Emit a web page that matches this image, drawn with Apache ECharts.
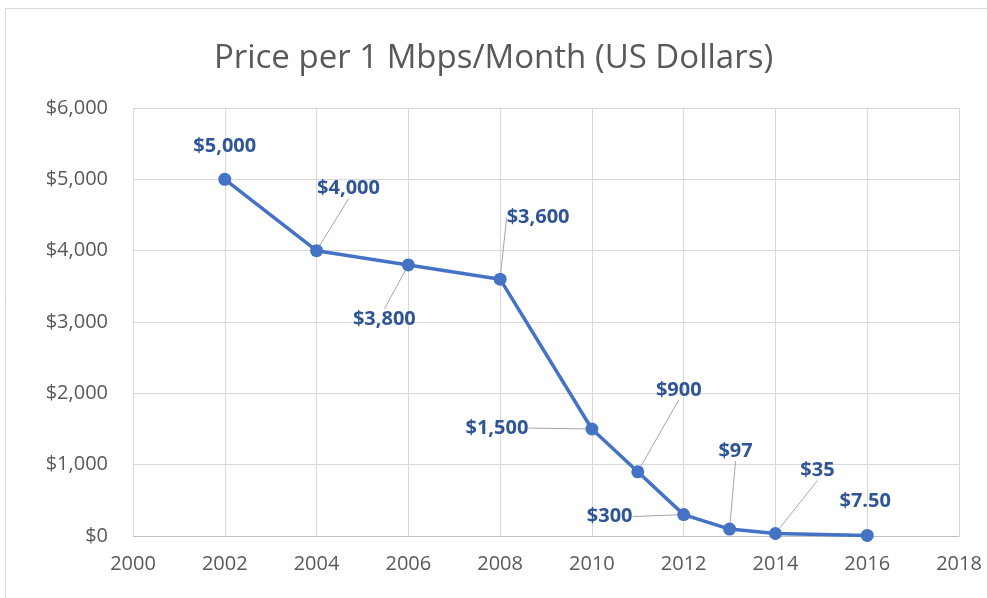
<!DOCTYPE html>
<html>
<head>
<meta charset="utf-8">
<script src="https://cdn.jsdelivr.net/npm/echarts@6/dist/echarts.min.js"></script>
<style>
  html, body { margin: 0; padding: 0; background: #fff; }
  #chart { width: 987px; height: 598px; }
</style>
</head>
<body>
<div id="chart"></div>
<script>
'use strict';

const years = [2002, 2004, 2006, 2008, 2010, 2011, 2012, 2013, 2014, 2016];
const prices = [5000, 4000, 3800, 3600, 1500, 900, 300, 97, 35, 7.5];
const priceLabels = ['$5,000', '$4,000', '$3,800', '$3,600', '$1,500', '$900', '$300', '$97', '$35', '$7.50'];
// where each label sits relative to its point, and whether it gets a leader line
const labelOffsets = [[0, -33], [32, -62], [-24, 54], [38, -62], [-95, -1],
  [41, -82], [-74, 2], [6, -78], [42, -63], [-2, -34]];
const leaderLines = [false, true, true, true, true, true, true, true, true, false];

const font = '"Open Sans", sans-serif';

const chart = echarts.init(document.getElementById('chart'));

const option = {
  animation: false,
  title: {
    text: 'Price per 1 Mbps/Month (US Dollars)',
    left: 'center',
    top: 37,
    textStyle: { fontFamily: font, fontSize: 33, fontWeight: 'normal', color: '#595959' }
  },
  graphic: [{
    type: 'rect',
    shape: { x: 5.5, y: 8.5, width: 990, height: 600 },
    style: { fill: 'none', stroke: '#d9d9d9', lineWidth: 1 },
    silent: true
  }],
  grid: { left: 133, right: 28, top: 108, bottom: 62 },
  xAxis: {
    type: 'value',
    min: 2000,
    max: 2018,
    interval: 2,
    axisLine: { show: true, lineStyle: { color: '#bfbfbf' } },
    axisTick: { show: false },
    axisLabel: {
      fontFamily: font, fontSize: 20, color: '#595959', margin: 18,
      formatter: v => String(v)
    },
    splitLine: { show: true, lineStyle: { color: '#d9d9d9' } }
  },
  yAxis: {
    type: 'value',
    min: 0,
    max: 6000,
    interval: 1000,
    axisLine: { show: false },
    axisTick: { show: false },
    axisLabel: {
      fontFamily: font, fontSize: 20, color: '#595959', margin: 25,
      formatter: v => '$' + v.toLocaleString('en-US')
    },
    splitLine: { lineStyle: { color: '#d9d9d9' } }
  },
  series: [{
    type: 'line',
    data: years.map((y, i) => ({
      value: [y, prices[i]],
      labelLine: { show: leaderLines[i] }
    })),
    symbol: 'circle',
    symbolSize: 13,
    lineStyle: { color: '#4472c4', width: 3.5 },
    itemStyle: { color: '#4472c4' },
    label: {
      show: true,
      position: 'inside',
      fontFamily: font,
      fontSize: 20,
      fontWeight: 'bold',
      color: '#2f5597',
      formatter: p => priceLabels[p.dataIndex]
    },
    labelLine: { show: true, lineStyle: { color: '#a6a6a6', width: 1 } },
    labelLayout: p => ({ dx: labelOffsets[p.dataIndex][0], dy: labelOffsets[p.dataIndex][1] })
  }]
};

chart.setOption(option);
</script>
</body>
</html>
